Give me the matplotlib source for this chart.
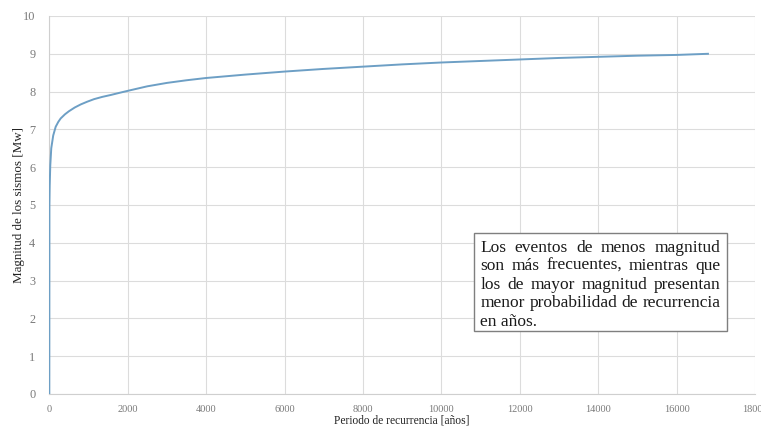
import matplotlib
matplotlib.use('Agg')
import matplotlib.pyplot as plt

# data
periodo = [0, 3, 10, 25, 50, 100, 163, 230, 290, 400, 500, 650, 800, 960, 1140, 1350, 1565,
           1800, 2000, 2500, 3000, 3500, 4000, 5000, 6000, 7000, 8000, 9000, 10000, 11000,
           12000, 13000, 14000, 15000, 16000, 16800]
magnitud = [0.0, 5.0, 5.5, 6.05, 6.5, 6.84, 7.07, 7.2, 7.29, 7.4, 7.48, 7.58, 7.66, 7.73,
            7.8, 7.86, 7.91, 7.97, 8.02, 8.14, 8.23, 8.3, 8.36, 8.45, 8.53, 8.6, 8.66, 8.72,
            8.77, 8.81, 8.85, 8.89, 8.92, 8.95, 8.97, 9.0]
x_ticks = list(range(0, 18001, 2000))
y_ticks = list(range(0, 11))
note_lines = ['Los eventos de menos magnitud',
              'son más frecuentes, mientras que',
              'los de mayor magnitud presentan',
              'menor probabilidad de recurrencia',
              'en años.']

W, H = 761, 426
fig = plt.figure(figsize=(W / 100, H / 100), dpi=100)
ax = fig.add_axes([49.3 / W, 1 - 394 / H, (755 - 49.3) / W, (394 - 16) / H])

ax.plot(periodo, magnitud, color='#6d9fc5', linewidth=1.4, zorder=3)

ax.set_xlim(0, 18000)
ax.set_ylim(0, 10)
ax.set_xticks(x_ticks)
ax.set_yticks(y_ticks)
ax.grid(True, color='#dcdcdc', linewidth=0.8)
ax.set_axisbelow(True)
for side in ['top', 'right']:
    ax.spines[side].set_visible(False)
for side in ['left', 'bottom']:
    ax.spines[side].set_color('#cfcfcf')
    ax.spines[side].set_linewidth(0.8)
ax.tick_params(length=0)
ax.tick_params(axis='y', labelsize=8.8, labelcolor='#7a7a7a', pad=10)
ax.tick_params(axis='x', labelsize=7.5, labelcolor='#7a7a7a', pad=8)
for lab in ax.get_xticklabels() + ax.get_yticklabels():
    lab.set_family('Liberation Serif')
for lab in ax.get_xticklabels():
    lab.set_clip_on(False)

ax.set_xlabel('Periodo de recurrencia [años]', family='Liberation Serif', fontsize=8.3,
              color='#222222', labelpad=0)
ax.set_ylabel('Magnitud de los sismos [Mw]', family='Liberation Serif', fontsize=9.4,
              color='#222222', labelpad=-1.5)

# text box with justified lines
box = plt.Rectangle((474 / W, 1 - 331 / H), (726.5 - 474) / W, (331 - 232.5) / H,
                    transform=fig.transFigure, facecolor='white', edgecolor='#7f7f7f',
                    linewidth=1.0, zorder=5)
fig.patches.append(box)

renderer = fig.canvas.get_renderer()
left_px, right_px = 480.5, 720.5
base0, step = 251.5, 18.6
fs = 12.5
for i, line in enumerate(note_lines):
    y = 1 - (base0 + i * step) / H
    words = line.split(' ')
    if i == len(note_lines) - 1:
        fig.text(left_px / W, y, line, family='Liberation Serif', fontsize=fs,
                 color='#1a1a1a', va='baseline', ha='left', zorder=6)
        continue
    widths = []
    for w in words:
        t = fig.text(0, 0, w, family='Liberation Serif', fontsize=fs)
        widths.append(t.get_window_extent(renderer).width)
        t.remove()
    gap = (right_px - left_px - sum(widths)) / (len(words) - 1)
    x = left_px
    for w, wd in zip(words, widths):
        fig.text(x / W, y, w, family='Liberation Serif', fontsize=fs,
                 color='#1a1a1a', va='baseline', ha='left', zorder=6)
        x += wd + gap

fig.savefig('out.png', dpi=100)
